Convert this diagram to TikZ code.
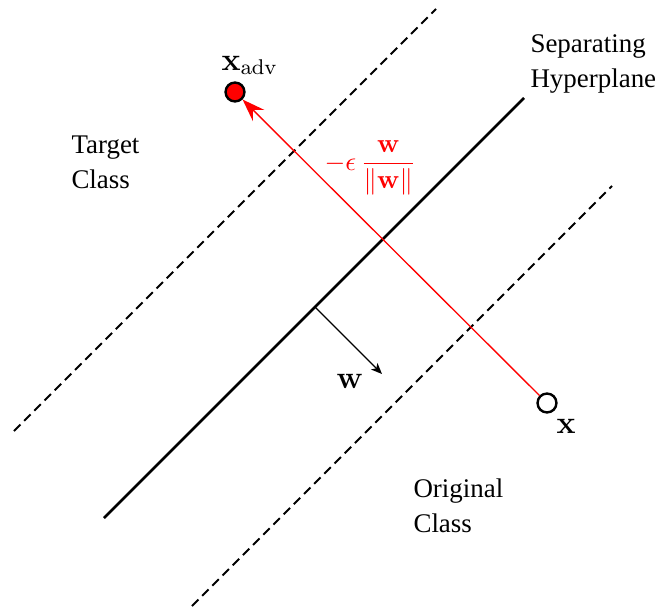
\documentclass[tikz,border=0pt]{standalone}
\usepackage[no-math]{fontspec}
\setmainfont{Liberation Serif}
\usetikzlibrary{arrows.meta}

\begin{document}
\begin{tikzpicture}[x=0.375pt,y=-0.375pt,line cap=butt,
  every node/.style={inner sep=0pt,font=\fontsize{10.1}{13.1}\selectfont},
  mathlbl/.style={anchor=base west,font=\large},
  plane/.style={line width=0.98pt},
  margin/.style={line width=0.75pt,dash pattern=on 3.4pt off 2pt},
  pt/.style={circle,draw,line width=0.9pt,minimum size=7.1pt},
  txt/.style={anchor=west,align=left}]
  \useasboundingbox (0,0) rectangle (664,611);
  % hyperplane and margins
  \draw[plane] (104,518) -- (524,98);
  \draw[margin] (14,431) -- (436,9);
  \draw[margin] (192,606) -- (612,186);
  % points
  \node[pt] (x) at (547,403) {};
  \node[pt,fill=red] (xadv) at (235,92) {};
  \node[mathlbl] at (556,433) {$\mathbf{x}$};
  \node[mathlbl] at (221,70) {$\mathbf{x}_{\mathrm{adv}}$};
  % perturbation
  \draw[red,line width=0.5pt,-{Stealth[length=8.5pt,width=6pt,inset=3pt]}] (x) -- (xadv);
  \node[red,anchor=west,font=\normalsize] at (324,168) {$\displaystyle-\epsilon\,\frac{\mathbf{w}}{\|\mathbf{w}\|}$};
  % normal vector
  \coordinate (wbase) at (315,307);
  \coordinate (wtip) at (382,374);
  \draw[line width=0.45pt,-{Stealth[length=4.1pt,width=3.4pt,inset=1.1pt]}] (wbase) -- (wtip);
  \node[mathlbl] at (336,388) {$\mathbf{w}$};
  % labels
  \node[txt] at (71,162) {Target\\Class};
  \node[txt] at (530,64) {Separating\\Hyperplane};
  \node[txt] at (413,506) {Original\\Class};
\end{tikzpicture}
\end{document}
